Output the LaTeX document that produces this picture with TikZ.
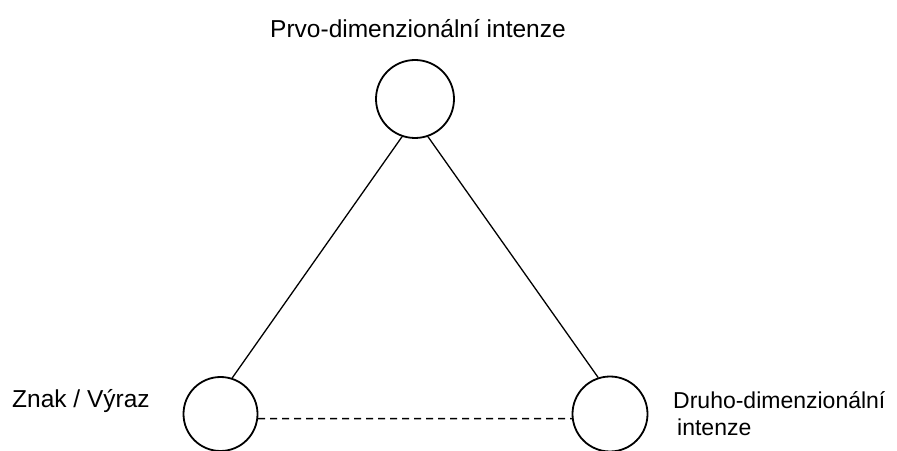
\documentclass[tikz,border=0pt]{standalone}
\usepackage{fontspec}
\setmainfont{Liberation Sans}

\begin{document}
\begin{tikzpicture}[x=1pt, y=1pt,
    vrchol/.style={draw, circle, line width=1.8pt, inner sep=0pt},
    popis/.style={inner sep=0pt, font=\fontsize{24.5}{27}\selectfont}]
      \useasboundingbox (0,0) rectangle (897,450);

      % tri vrcholy
      \node[vrchol, minimum size=78pt] (prvo) at (415,351) {};
      \node[vrchol, minimum size=74pt] (znak) at (220.5,36) {};
      \node[vrchol, minimum size=75pt] (druho) at (610,36) {};

      % popisky
      \node[popis, anchor=base] (tprvo) at (418,412) {Prvo-dimenzionální intenze};
      \node[popis, anchor=base west] (tznak) at (12,42) {Znak / Výraz};
      \node[popis, font=\fontsize{23}{27}\selectfont, anchor=base west, align=left]
          (tdruho) at (673,15) {Druho-dimenzionální\\\hspace*{4pt}intenze};

      % spojnice
      \draw[line width=1.3pt] (prvo.251) -- (znak.72);
      \draw[line width=1.3pt] (prvo.289) -- (druho.108);
      \draw[line width=1.4pt, dash pattern=on 7pt off 5pt] (znak.-7) -- (druho.187);
    \end{tikzpicture}
\end{document}
